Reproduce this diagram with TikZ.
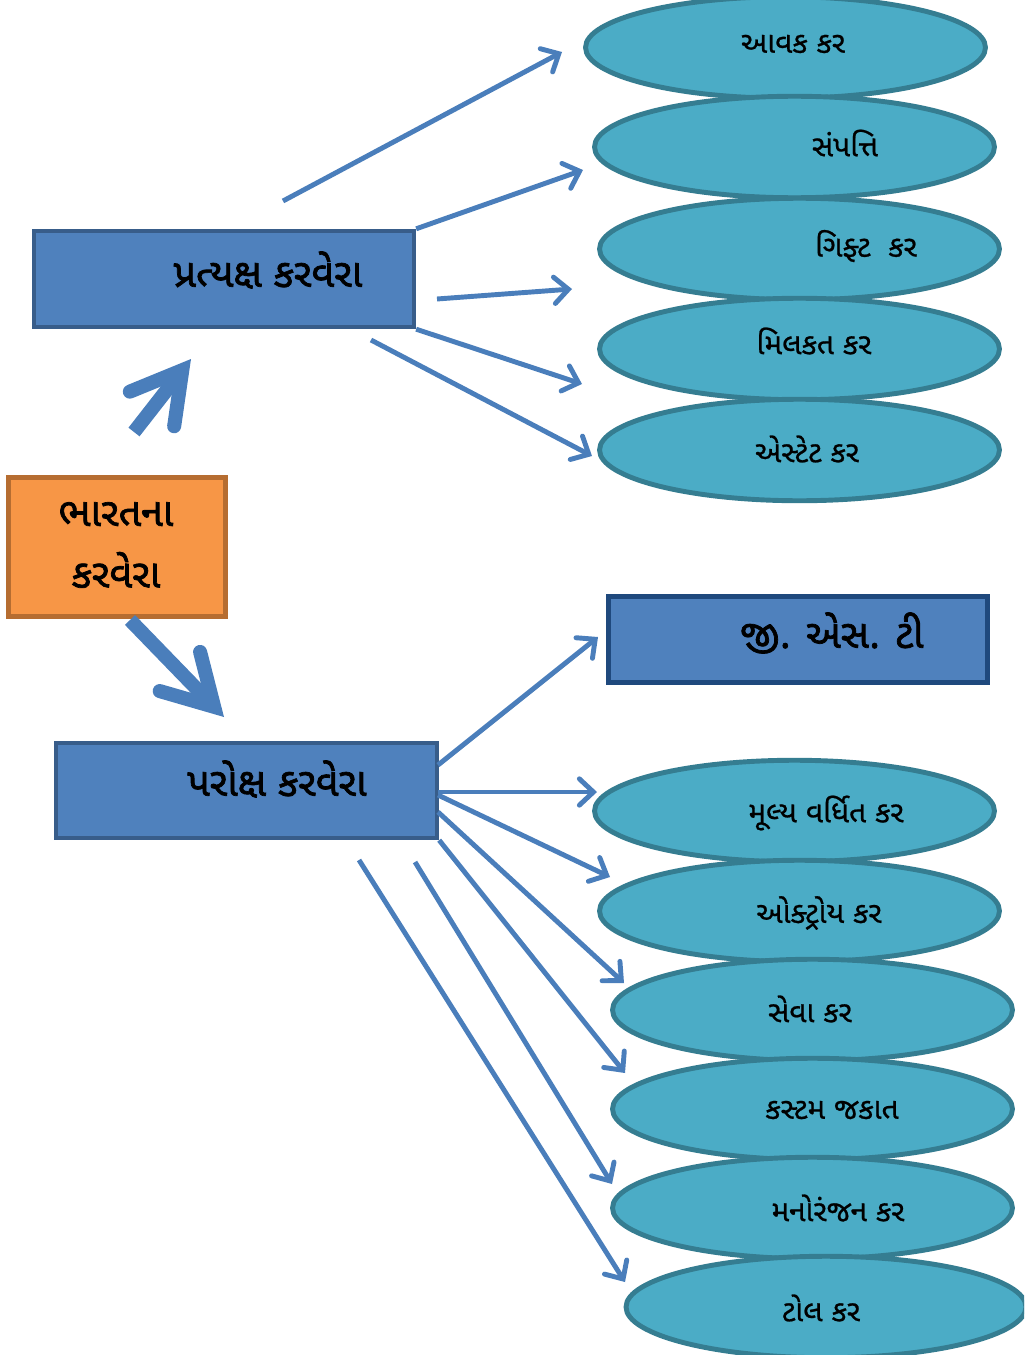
\documentclass[tikz,border=0pt]{standalone}
\usepackage{fontspec}
\newfontfamily\gujtext[Script=Gujarati,FakeBold=0.7]{Noto Sans Gujarati UI}
\newfontfamily\gujbold[Script=Gujarati,FakeBold=1.8]{Noto Sans Gujarati UI}
\usetikzlibrary{arrows.meta, shapes.geometric}

\definecolor{boxblue}{HTML}{4F81BD}
\definecolor{boxedge}{HTML}{385D8A}
\definecolor{gstedge}{HTML}{1F497D}
\definecolor{ovalfill}{HTML}{4BACC6}
\definecolor{ovaledge}{HTML}{357D91}
\definecolor{rootfill}{HTML}{F79646}
\definecolor{rootedge}{HTML}{B66D31}
\definecolor{arrowblue}{HTML}{4A7EBB}

\tikzset{
    taxbox/.style={rectangle, draw=boxedge, fill=boxblue, line width=2.5pt, inner sep=0pt},
    taxoval/.style={ellipse, draw=ovaledge, fill=ovalfill, line width=2.8pt, inner sep=0pt,
        minimum width=8cm, minimum height=2.03cm},
    boxlabel/.style={font=\gujbold\fontsize{22.5}{26}\selectfont, inner sep=0pt},
    ovallabel/.style={font=\gujtext\fontsize{17}{20}\selectfont, inner sep=0pt},
    thinarrow/.style={draw=arrowblue, line width=2.8pt,
        -{Straight Barb[length=8pt, width=15pt, line cap=round]}},
    bigarrow/.style={draw=arrowblue, line width=8pt,
        -{Straight Barb[length=28pt, width=32pt, line cap=round, line join=miter]}}
}

\begin{document}
\begin{tikzpicture}[x=0.02cm, y=-0.02cm]
    \useasboundingbox (0,0) rectangle (1024,1355);
    \clip (0,0) rectangle (1024,1355);

    % boxes
    \node[rectangle, draw=rootedge, fill=rootfill, line width=2.5pt, minimum width=4.34cm, minimum height=2.78cm] (bharat) at (117,547) {};
    \node[boxlabel, align=center] (bharat-txt) at (116,545) {ભારતના\\[9pt]કરવેરા};
    \node[taxbox, minimum width=7.6cm, minimum height=1.92cm] (direct) at (224,279) {};
    \node[boxlabel] (direct-txt) at (268,270) {પ્રત્યક્ષ કરવેરા};
    \node[taxbox, minimum width=7.62cm, minimum height=1.9cm] (indirect) at (246.5,790.5) {};
    \node[boxlabel] (indirect-txt) at (277,779) {પરોક્ષ કરવેરા};
    \node[taxbox, draw=gstedge, line width=3pt, minimum width=7.58cm, minimum height=1.72cm] (gst) at (798,639.5) {};
    \node[boxlabel] (gst-txt) at (832,633) {જી. એસ. ટી};

    % ovals
    \foreach \name/\cx/\cy/\tx/\ty/\txt in {
        aavak/785.5/47.5/793/44/આવક કર,
        sampatti/794.5/147/845/143/સંપત્તિ,
        gift/799.5/249/866/246/ગિફ્ટ\ \ કર,
        milkat/799.5/349/814/341/મિલકત કર,
        estate/799.5/450/807/449/એસ્ટેટ કર,
        mulya/794.5/811/826/813/મૂલ્ય વર્ધિત કર,
        octroi/799.5/911/819/913/ઓક્ટ્રોય કર,
        seva/812.5/1010/810/1009/સેવા કર,
        custom/812.5/1109/832/1110/કસ્ટમ જકાત,
        manoranjan/812.5/1208/838/1208/મનોરંજન કર,
        toll/826/1307/821/1308/ટોલ કર} {
        \node[taxoval] (\name) at (\cx,\cy) {};
        \node[ovallabel] (\name-txt) at (\tx,\ty) {\txt};
    }

    % big arrows
    \coordinate (up-a) at (134,432);
    \coordinate (up-b) at (191,359);
    \coordinate (down-a) at (130,620);
    \coordinate (down-b) at (224,717);
    \draw[bigarrow] (up-a) -- (up-b);
    \draw[bigarrow] (down-a) -- (down-b);

    % direct taxes
    \coordinate (d1) at (283,201);
    \coordinate (d3) at (437,299);
    \coordinate (d5) at (371,340);
    \draw[thinarrow] (d1) -- (562,52) coordinate (to-aavak);
    \draw[thinarrow] (direct.north east) -- (583,170) coordinate (to-sampatti);
    \draw[thinarrow] (d3) -- (572,289) coordinate (to-gift);
    \draw[thinarrow] (direct.south east) -- (582,384) coordinate (to-milkat);
    \draw[thinarrow] (d5) -- (592,456) coordinate (to-estate);

    % indirect taxes
    \coordinate (i1) at (438,765);
    \coordinate (i2) at (438,792);
    \coordinate (i3) at (438,795);
    \coordinate (i4) at (438,812);
    \coordinate (i6) at (415,862);
    \coordinate (i7) at (359,860);
    \draw[thinarrow] (i1) -- (598,637) coordinate (to-gst);
    \draw[thinarrow] (i2) -- (597,792) coordinate (to-mulya);
    \draw[thinarrow] (i3) -- (610,877) coordinate (to-octroi);
    \draw[thinarrow] (i4) -- (624,983) coordinate (to-seva);
    \draw[thinarrow] (indirect.south east) -- (625,1073) coordinate (to-custom);
    \draw[thinarrow] (i6) -- (612,1184) coordinate (to-manoranjan);
    \draw[thinarrow] (i7) -- (625,1282) coordinate (to-toll);
\end{tikzpicture}
\end{document}
